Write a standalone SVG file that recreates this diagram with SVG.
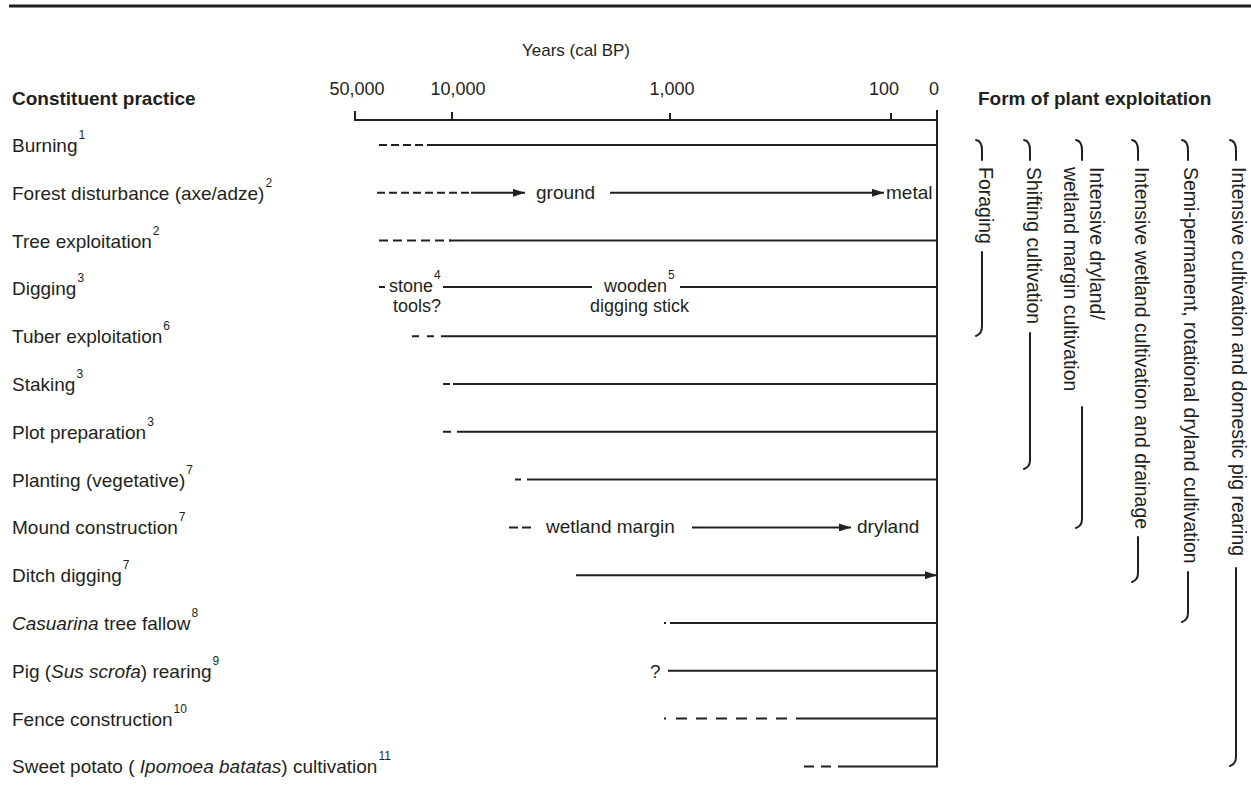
<svg xmlns="http://www.w3.org/2000/svg" width="1251" height="798" viewBox="0 0 1251 798">
<style>
text{font-family:"Liberation Sans",Arial,sans-serif;fill:#231f20}
.lab{font-size:19px}
.sm{font-size:18px}
.hd{font-size:19px;font-weight:bold}
.ax{font-size:18px;text-anchor:middle}
.yr{font-size:17px;text-anchor:middle}
.sup{font-size:12px}
.rot{font-size:19.5px}
.ln{stroke:#231f20;stroke-width:2;fill:none}
.d1{stroke-dasharray:8 4}
.d2{stroke-dasharray:9 5}
.d3{stroke-dasharray:11 9}
.br{stroke:#231f20;stroke-width:2;fill:none;stroke-linecap:round}
</style>
<defs>
<marker id="ah" viewBox="0 0 12 8" refX="12" refY="4" markerWidth="12" markerHeight="8" markerUnits="userSpaceOnUse" orient="auto">
<path d="M0,0 L12,4 L0,8 z" fill="#231f20"/>
</marker>
</defs>
<rect width="1251" height="798" fill="#fff"/>
<line x1="9" y1="6" x2="1251" y2="6" stroke="#231f20" stroke-width="3"/>

<g id="axis">
<text class="yr" x="576" y="56">Years (cal BP)</text>
<text class="ax" x="357" y="95">50,000</text>
<text class="ax" x="458" y="95">10,000</text>
<text class="ax" x="672" y="95">1,000</text>
<text class="ax" x="884" y="95">100</text>
<text class="ax" x="934" y="95">0</text>
<path class="ln" d="M355,111 V120 H937 M452,112 V120 M670,113 V120 M891,113 V120 M937,110 V766.4 H838"/>
</g>

<g id="headers">
<text class="hd" x="12" y="105">Constituent practice</text>
<text class="hd" x="978" y="105">Form of plant exploitation</text>
</g>

<g id="row-burning">
<text class="lab" x="12" y="152">Burning<tspan class="sup" dx="1" dy="-13">1</tspan></text>
</g>
<g id="row-forest">
<text class="lab" x="12" y="199.8">Forest disturbance (axe/adze)<tspan class="sup" dx="1" dy="-13">2</tspan></text>
<text class="lab" x="536" y="198.8">ground</text>
<text class="lab" x="886" y="198.8">metal</text>
</g>
<g id="row-tree">
<text class="lab" x="12" y="247.6">Tree exploitation<tspan class="sup" dx="1" dy="-13">2</tspan></text>
</g>
<g id="row-digging">
<text class="lab" x="12" y="295.4">Digging<tspan class="sup" dx="1" dy="-13">3</tspan></text>
<text class="sm" x="389" y="291.5">stone<tspan class="sup" dx="1" dy="-13">4</tspan></text>
<text class="sm" x="393" y="312">tools?</text>
<text class="sm" x="604" y="291.5">wooden<tspan class="sup" dx="1" dy="-13">5</tspan></text>
<text class="sm" x="590" y="312">digging stick</text>
</g>
<g id="row-tuber">
<text class="lab" x="12" y="343.2">Tuber exploitation<tspan class="sup" dx="1" dy="-13">6</tspan></text>
</g>
<g id="row-staking">
<text class="lab" x="12" y="391">Staking<tspan class="sup" dx="1" dy="-13">3</tspan></text>
</g>
<g id="row-plot">
<text class="lab" x="12" y="438.8">Plot preparation<tspan class="sup" dx="1" dy="-13">3</tspan></text>
</g>
<g id="row-planting">
<text class="lab" x="12" y="486.6">Planting (vegetative)<tspan class="sup" dx="1" dy="-13">7</tspan></text>
</g>
<g id="row-mound">
<text class="lab" x="12" y="534.4">Mound construction<tspan class="sup" dx="1" dy="-13">7</tspan></text>
<text class="lab" x="546" y="533.4">wetland margin</text>
<text class="lab" x="857" y="533.4">dryland</text>
</g>
<g id="row-ditch">
<text class="lab" x="12" y="582.2">Ditch digging<tspan class="sup" dx="1" dy="-13">7</tspan></text>
</g>
<g id="row-casuarina">
<text class="lab" x="12" y="630"><tspan font-style="italic">Casuarina</tspan> tree fallow<tspan class="sup" dx="1" dy="-13">8</tspan></text>
</g>
<g id="row-pig">
<text class="lab" x="12" y="677.8">Pig (<tspan font-style="italic">Sus scrofa</tspan>) rearing<tspan class="sup" dx="1" dy="-13">9</tspan></text>
<text class="lab" x="650" y="677.8">?</text>
</g>
<g id="row-fence">
<text class="lab" x="12" y="725.6">Fence construction<tspan class="sup" dx="1" dy="-13">10</tspan></text>
</g>
<g id="row-sweetpotato">
<text class="lab" x="12" y="773.4">Sweet potato ( <tspan font-style="italic">Ipomoea batatas</tspan>) cultivation<tspan class="sup" dx="1" dy="-13">11</tspan></text>
</g>

<g id="connectors">
<line class="ln d1" x1="379" y1="145" x2="425" y2="145"/>
<line class="ln" x1="427" y1="145" x2="937" y2="145"/>
<line class="ln d1" x1="377" y1="192.8" x2="470" y2="192.8"/>
<line class="ln" x1="471" y1="192.8" x2="525" y2="192.8" marker-end="url(#ah)"/>
<line class="ln" x1="610" y1="192.8" x2="884" y2="192.8" marker-end="url(#ah)"/>
<line class="ln d2" x1="379" y1="240.6" x2="451" y2="240.6"/>
<line class="ln" x1="449" y1="240.6" x2="937" y2="240.6"/>
<line class="ln" x1="379" y1="287" x2="385" y2="287"/>
<line class="ln" x1="443" y1="287" x2="592" y2="287"/>
<line class="ln" x1="680" y1="287" x2="937" y2="287"/>
<path class="ln" d="M412,336.2 H419 M427,336.2 H434 M441,336.2 H937"/>
<path class="ln" d="M443,384 H450 M453,384 H937"/>
<path class="ln" d="M443,431.8 H451 M457,431.8 H937"/>
<path class="ln" d="M515,479.6 H521 M527,479.6 H937"/>
<path class="ln" d="M509,527.4 H518 M522,527.4 H531"/>
<line class="ln" x1="692" y1="527.4" x2="851" y2="527.4" marker-end="url(#ah)"/>
<line class="ln" x1="576" y1="575.2" x2="937" y2="575.2" marker-end="url(#ah)"/>
<path class="ln" d="M664,623 H666 M670,623 H937"/>
<line class="ln" x1="668" y1="670.8" x2="937" y2="670.8"/>
<path class="ln" d="M664,718.6 H666"/>
<line class="ln d3" x1="676" y1="718.6" x2="800" y2="718.6"/>
<line class="ln" x1="800" y1="718.6" x2="937" y2="718.6"/>
<path class="ln" d="M804,766.4 H814 M821,766.4 H831"/>
</g>

<g id="form-foraging">
<path class="br" d="M976,140 Q982,141 982,150 V160 M982,252 V326 Q982,334 976,336"/>
<text class="rot" transform="translate(979,167) rotate(90)">Foraging</text>
</g>
<g id="form-shifting">
<path class="br" d="M1024,140 Q1030,141 1030,150 V160 M1030,333 V460 Q1030,467 1024,469"/>
<text class="rot" transform="translate(1027,167) rotate(90)">Shifting cultivation</text>
</g>
<g id="form-dryland-wetland-margin">
<path class="br" d="M1076,140 Q1082,141 1082,150 V160 M1082,407 V519 Q1082,526 1076,528"/>
<text class="rot" transform="translate(1090,167) rotate(90)">Intensive dryland/</text>
<text class="rot" transform="translate(1064,167) rotate(90)">wetland margin cultivation</text>
</g>
<g id="form-wetland-drainage">
<path class="br" d="M1132,140 Q1138,141 1138,150 V160 M1138,537 V573 Q1138,580 1132,582"/>
<text class="rot" transform="translate(1135,167) rotate(90)">Intensive wetland cultivation and drainage</text>
</g>
<g id="form-semi-permanent">
<path class="br" d="M1182,140 Q1188,141 1188,150 V160 M1188,572 V613 Q1188,620 1182,622"/>
<text class="rot" transform="translate(1184,167) rotate(90)">Semi-permanent, rotational dryland cultivation</text>
</g>
<g id="form-intensive-pig">
<path class="br" d="M1230,140 Q1236,141 1236,150 V160 M1236,568 V757 Q1236,764 1230,766"/>
<text class="rot" transform="translate(1232,167) rotate(90)">Intensive  cultivation and domestic pig rearing</text>
</g>
</svg>
